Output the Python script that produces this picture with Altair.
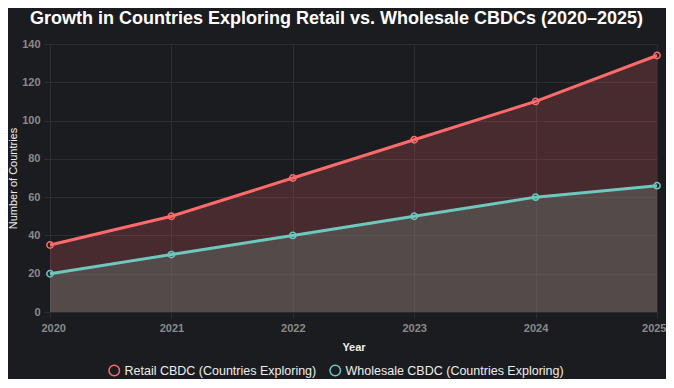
import altair as alt
import pandas as pd

years = [2020, 2021, 2022, 2023, 2024, 2025]
retail = [35, 50, 70, 90, 110, 134]
wholesale = [20, 30, 40, 50, 60, 66]
series_names = ["Retail CBDC (Countries Exploring)", "Wholesale CBDC (Countries Exploring)"]
line_colors = ["#ff6b6b", "#6ec8be"]
fill_colors = ["#ff6b6b", "#72938c"]
y_ticks = [0, 20, 40, 60, 80, 100, 120, 140]

rows = []
for name, vals in zip(series_names, [retail, wholesale]):
    for y, v in zip(years, vals):
        rows.append({"Year": y, "Value": v, "Series": name})
df = pd.DataFrame(rows)

BG = "#1b1c20"
GRID = "#2d2e33"
FONT = "Liberation Sans"

x = alt.X("Year:Q", scale=alt.Scale(domain=[2020, 2025], nice=False),
          axis=alt.Axis(values=years, format="d", title="Year", labelColor="#8a8a8a",
                        labelFontWeight="bold", labelFontSize=11, titleColor="#eeeeee",
                        titleFontSize=11, titleFontWeight="bold", gridColor=GRID,
                        domain=False, tickColor=GRID, tickSize=6, labelPadding=4,
                        titlePadding=8, labelFlush=True, labelFlushOffset=9,
                        labelOverlap=False))
y = alt.Y("Value:Q", stack=None, scale=alt.Scale(domain=[0, 140], nice=False),
          axis=alt.Axis(values=y_ticks, title="Number of Countries",
                        labelColor="#8a8a8a", labelFontWeight="bold", labelFontSize=11,
                        titleColor="#eeeeee", titleFontSize=11, titleFontWeight="normal",
                        gridColor=GRID, domain=False, tickColor=GRID, tickSize=6,
                        labelPadding=4, titlePadding=3, labelOverlap=False))

color_line = alt.Color("Series:N", scale=alt.Scale(domain=series_names, range=line_colors),
                       legend=alt.Legend(title=None, orient="none", direction="horizontal",
                                         legendX=58, legendY=320, symbolType="circle",
                                         symbolSize=110, symbolFillColor="transparent",
                                         symbolStrokeWidth=1.5, labelColor="#eeeeee",
                                         labelFontSize=12.5, labelFont=FONT, columnPadding=10,
                                         labelLimit=400, symbolOpacity=1))

base = alt.Chart(df)

area_retail = base.transform_filter(alt.datum.Series == series_names[0]).mark_area(
    color=fill_colors[0], opacity=0.2).encode(x=x, y=y, y2=alt.datum(0))
area_whole = base.transform_filter(alt.datum.Series == series_names[1]).mark_area(
    color=fill_colors[1], opacity=0.3).encode(x=x, y=y, y2=alt.datum(0))

lines = base.mark_line(strokeWidth=3).encode(x=x, y=y, color=color_line)
points = base.mark_point(shape="circle", size=40, filled=False, strokeWidth=1.5, opacity=1).encode(
    x=x, y=y, color=alt.Color("Series:N", scale=alt.Scale(domain=series_names, range=line_colors), legend=None))

chart = alt.layer(area_retail, area_whole, lines, points).properties(
    width=607, height=268,
    background=BG,
    padding={"left": 42, "top": 36, "right": 9, "bottom": 67},
    autosize=alt.AutoSizeParams(type="none"),
    title=alt.TitleParams("Growth in Countries Exploring Retail vs. Wholesale CBDCs (2020–2025)",
                          color="#ffffff", fontSize=18, font=FONT, fontWeight="bold",
                          anchor="middle", dx=-17, offset=10),
).configure_view(stroke=None).configure_axis(labelFont=FONT, titleFont=FONT)

chart.save("out.html", embed_options={"renderer": "svg", "actions": False})
